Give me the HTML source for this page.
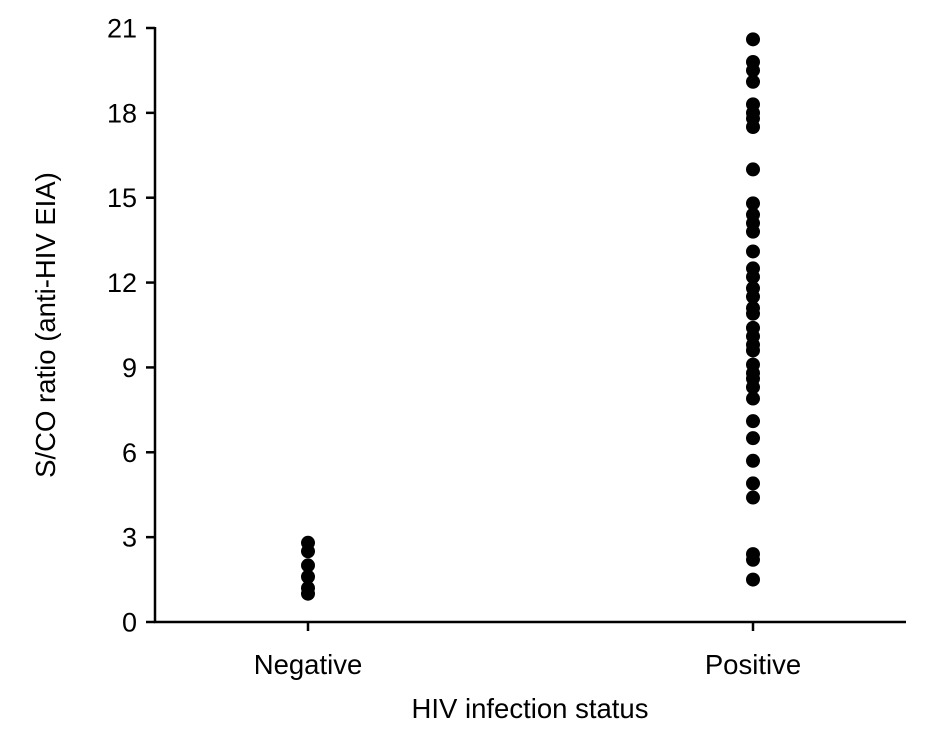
<!DOCTYPE html>
<html><head><meta charset="utf-8"><style>body{margin:0;background:#fff}svg{display:block}text{font-family:"Liberation Sans",Arial,sans-serif;fill:#000}</style></head>
<body>
<svg id="c" width="934" height="736"></svg>
<script>
const categories=["Negative","Positive"];
const negValues=[2.8,2.5,2.0,1.6,1.2,1.0];
const posValues=[20.6,19.8,19.5,19.1,18.3,18.0,17.8,17.5,16.0,14.8,14.4,14.1,13.8,13.1,12.5,12.2,11.8,11.5,11.1,10.9,10.4,10.1,9.8,9.6,9.1,8.8,8.6,8.3,7.9,7.1,6.5,5.7,4.9,4.4,2.4,2.2,1.5];
const yTicks=[0,3,6,9,12,15,18,21];
const NS="http://www.w3.org/2000/svg",svg=document.getElementById('c');
const y=v=>622-v*(594/21), x=i=>[308,753][i];
function mk(t,a,txt){const e=document.createElementNS(NS,t);for(const k in a)e.setAttribute(k,a[k]);if(txt!=null)e.textContent=txt;svg.appendChild(e);return e;}
let e=mk('line',{x1:155,y1:27,x2:155,y2:623,stroke:'#000','stroke-width':2.5});

e=mk('line',{x1:154,y1:622,x2:906,y2:622,stroke:'#000','stroke-width':2.5});

yTicks.forEach(t=>{
 e=mk('line',{x1:146,y1:y(t),x2:155,y2:y(t),stroke:'#000','stroke-width':2.5});
 
 e=mk('text',{x:137,y:y(t)+9.5,'text-anchor':'end','font-size':27},t);
 
});
categories.forEach((c,i)=>{
 e=mk('line',{x1:x(i),y1:622,x2:x(i),y2:631,stroke:'#000','stroke-width':2.5});
 
 e=mk('text',{x:x(i),y:674,'text-anchor':'middle','font-size':27.5},c);
 
});
[negValues,posValues].forEach((vals,i)=>vals.forEach(v=>{
 e=mk('circle',{cx:x(i),cy:y(v),r:7,fill:'#000'});
 
}));
e=mk('text',{x:530,y:718,'text-anchor':'middle','font-size':27.5},'HIV infection status');

e=mk('text',{x:0,y:0,'text-anchor':'middle','font-size':27.5,transform:'translate(55,325) rotate(-90)'},'S/CO ratio (anti-HIV EIA)');

</script>
</body></html>
